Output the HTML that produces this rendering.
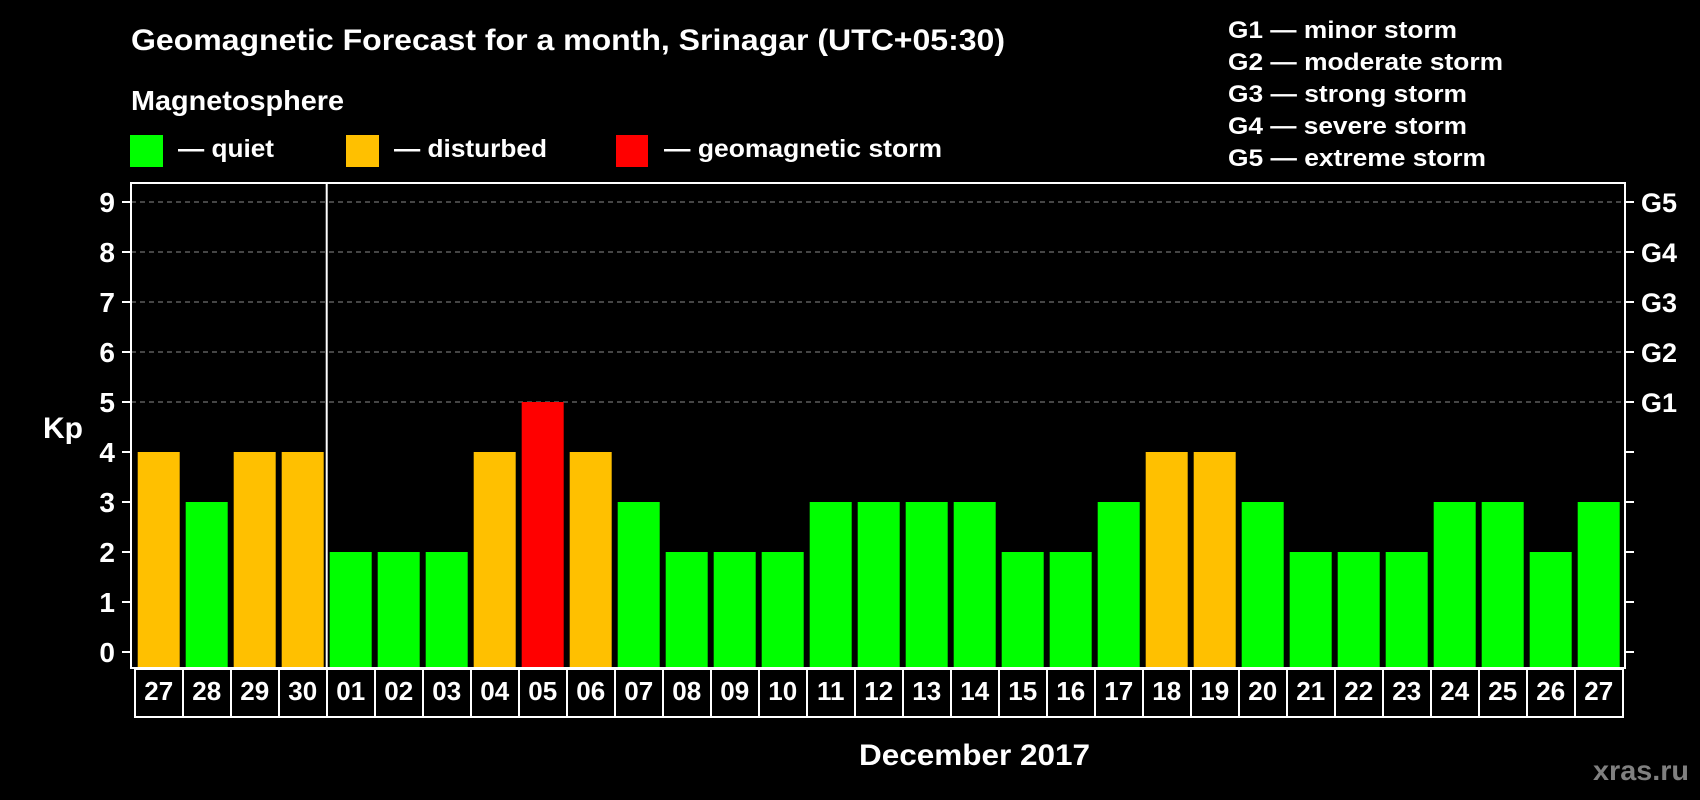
<!DOCTYPE html>
<html><head><meta charset="utf-8"><style>
html,body{margin:0;padding:0;background:#000;}
svg{display:block;}
text{font-family:"Liberation Sans",Arial,sans-serif;font-weight:bold;fill:#fff;}
</style></head><body>
<svg id="chart" width="1700" height="800" viewBox="0 0 1700 800" xmlns="http://www.w3.org/2000/svg">
<rect x="0" y="0" width="1700" height="800" fill="#000"/>
<text x="131" y="50" font-size="30" textLength="874" lengthAdjust="spacingAndGlyphs">Geomagnetic Forecast for a month, Srinagar (UTC+05:30)</text>
<text x="131" y="110" font-size="28" textLength="213" lengthAdjust="spacingAndGlyphs">Magnetosphere</text>
<g>
<rect x="130" y="135" width="33" height="32" fill="#00ff00"/>
<text x="178" y="157" font-size="25" textLength="96" lengthAdjust="spacingAndGlyphs">— quiet</text>
</g>
<g>
<rect x="346" y="135" width="33" height="32" fill="#ffc000"/>
<text x="394" y="157" font-size="25" textLength="153" lengthAdjust="spacingAndGlyphs">— disturbed</text>
</g>
<g>
<rect x="616" y="135" width="32" height="32" fill="#ff0000"/>
<text x="664" y="157" font-size="25" textLength="278" lengthAdjust="spacingAndGlyphs">— geomagnetic storm</text>
</g>
<g>
<text x="1228" y="38" font-size="24" textLength="229" lengthAdjust="spacingAndGlyphs">G1 — minor storm</text>
<text x="1228" y="70" font-size="24" textLength="275" lengthAdjust="spacingAndGlyphs">G2 — moderate storm</text>
<text x="1228" y="102" font-size="24" textLength="239" lengthAdjust="spacingAndGlyphs">G3 — strong storm</text>
<text x="1228" y="134" font-size="24" textLength="239" lengthAdjust="spacingAndGlyphs">G4 — severe storm</text>
<text x="1228" y="166" font-size="24" textLength="258" lengthAdjust="spacingAndGlyphs">G5 — extreme storm</text>
</g>
<text x="43" y="438" font-size="30" textLength="40" lengthAdjust="spacingAndGlyphs">Kp</text>
<text x="974.5" y="765" font-size="30" text-anchor="middle" textLength="231" lengthAdjust="spacingAndGlyphs">December 2017</text>
<text x="1689" y="780" font-size="28" text-anchor="end" style="fill:#808080" textLength="96" lengthAdjust="spacingAndGlyphs">xras.ru</text>
<g id="grid"></g>
<g id="bars"></g>
<g id="axes"></g>
<g id="xlabels"></g>
</svg>
<script>
const days = ["27","28","29","30","01","02","03","04","05","06","07","08","09","10","11","12","13","14","15","16","17","18","19","20","21","22","23","24","25","26","27"];
const kpValues = [4,3,4,4,2,2,2,4,5,4,3,2,2,2,3,3,3,3,2,2,3,4,4,3,2,2,2,3,3,2,3];
const yTicks = [0,1,2,3,4,5,6,7,8,9];
const gLevels = [5,6,7,8,9];
const gLabels = ["G1","G2","G3","G4","G5"];

const NS = "http://www.w3.org/2000/svg";
const plotL = 131, plotR = 1625, plotT = 183, plotB = 668;
const y0 = 652, unit = 50;
const barX0 = 137.7, pitch = 48, barW = 42;
function yScale(v){ return y0 - v*unit; }
function xScale(i){ return barX0 + i*pitch; }
function mk(tag, attrs){ const e = document.createElementNS(NS, tag); for (const k in attrs) e.setAttribute(k, attrs[k]); return e; }
function color(v){ return v >= 5 ? "#ff0000" : (v >= 4 ? "#ffc000" : "#00ff00"); }

const grid = document.getElementById("grid");
gLevels.forEach(v => {
  const l = mk("line", {x1: plotL, x2: plotR, y1: yScale(v), y2: yScale(v), stroke: "#8a8a8a", "stroke-width": 1, "stroke-dasharray": "5,4"});
  
  
  grid.appendChild(l);
});

const bars = document.getElementById("bars");
kpValues.forEach((v, i) => {
  const r = mk("rect", {x: xScale(i), y: yScale(v), width: barW, height: plotB - yScale(v), fill: color(v)});
  
  
  bars.appendChild(r);
});

const axes = document.getElementById("axes");
const frame = mk("rect", {x: plotL, y: plotT, width: plotR - plotL, height: plotB - plotT, fill: "none", stroke: "#fff", "stroke-width": 2});


axes.appendChild(frame);
const divX = (xScale(3) + barW + xScale(4)) / 2;
const div = mk("line", {x1: divX, x2: divX, y1: plotT, y2: plotB, stroke: "#fff", "stroke-width": 2});


axes.appendChild(div);
yTicks.forEach(v => {
  const y = yScale(v);
  const tl = mk("line", {x1: 122, x2: plotL, y1: y, y2: y, stroke: "#fff", "stroke-width": 2});
  
  
  axes.appendChild(tl);
  const tr = mk("line", {x1: plotR, x2: 1634, y1: y, y2: y, stroke: "#fff", "stroke-width": 2});
  
  
  axes.appendChild(tr);
  const t = mk("text", {x: 115, y: y + 10, "font-size": 28, "text-anchor": "end"});
  t.textContent = String(v);
  
  
  axes.appendChild(t);
});
gLevels.forEach((v, i) => {
  const t = mk("text", {x: 1641, y: yScale(v) + 10, "font-size": 27});
  t.textContent = gLabels[i];
  
  
  axes.appendChild(t);
});

const xl = document.getElementById("xlabels");
const boxL = 135, boxT = 669, boxB = 717;
const box = mk("rect", {x: boxL, y: boxT, width: days.length*pitch, height: boxB - boxT, fill: "none", stroke: "#fff", "stroke-width": 2});


xl.appendChild(box);
days.forEach((d, i) => {
  if (i > 0) {
    const l = mk("line", {x1: boxL + i*pitch, x2: boxL + i*pitch, y1: boxT, y2: boxB, stroke: "#fff", "stroke-width": 2});
    
    
    xl.appendChild(l);
  }
  const t = mk("text", {x: xScale(i) + barW/2, y: 700, "font-size": 26, "text-anchor": "middle"});
  t.textContent = d;
  
  
  xl.appendChild(t);
});
</script>
</body></html>
